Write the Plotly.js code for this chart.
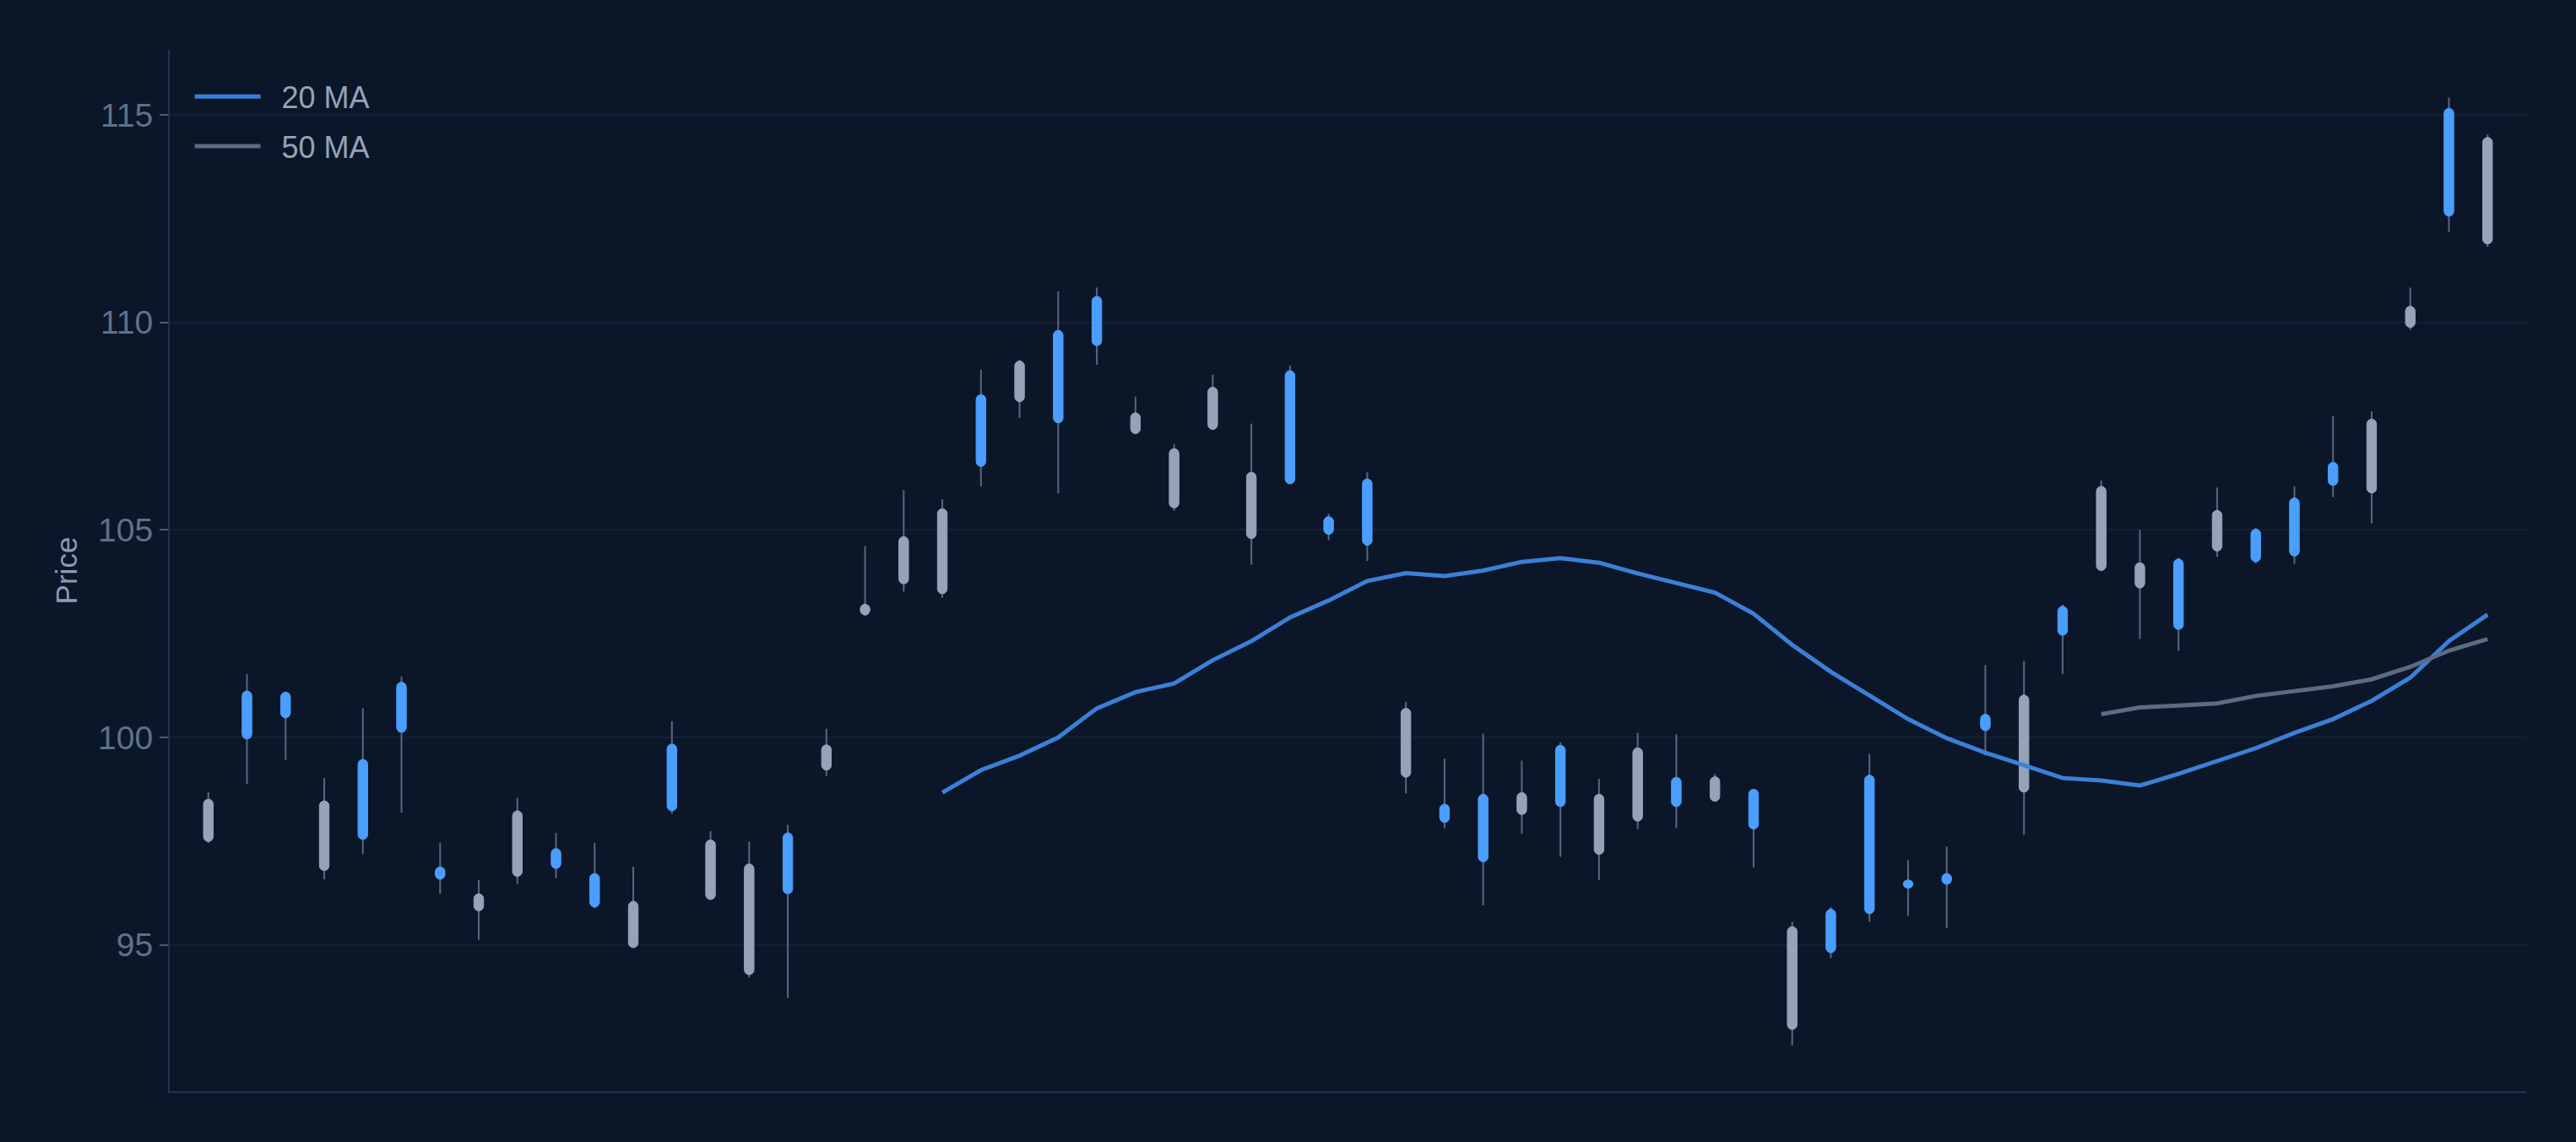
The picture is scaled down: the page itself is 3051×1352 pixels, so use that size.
<!DOCTYPE html>
<html>
<head>
<meta charset="utf-8">
<script src="https://cdn.plot.ly/plotly-3.0.1.min.js"></script>
<style>
	html, body { margin: 0; padding: 0; background: #0b1628; }
	#chart { width: 3051px; height: 1352px; }
</style>
</head>
<body>
<div id="chart"></div>
<script>
// OHLC, one entry per session
const openPrices = [98.51, 99.96, 100.47, 98.47, 97.54, 100.12, 96.58, 96.23, 98.23, 96.84,
	95.91, 96.05, 98.23, 97.53, 96.95, 96.23, 99.82, 103.21, 104.84, 105.51,
	106.53, 109.07, 107.58, 109.44, 107.82, 106.96, 108.44, 106.39, 106.11, 104.89,
	104.63, 100.70, 97.95, 97.00, 98.67, 98.33, 98.63, 99.75, 98.33, 99.05,
	97.79, 95.44, 94.81, 95.75, 96.37, 96.46, 100.16, 101.02, 102.46, 106.05,
	104.21, 102.60, 105.47, 104.23, 104.37, 106.07, 107.67, 110.39, 112.56, 114.46];
const highPrices = [98.68, 101.53, 101.10, 99.02, 100.70, 101.47, 97.46, 96.56, 98.54, 97.70,
	97.46, 96.88, 100.39, 97.74, 97.49, 97.89, 100.21, 104.61, 105.96, 105.74,
	108.86, 109.10, 110.75, 110.84, 108.21, 107.07, 108.74, 107.56, 108.96, 105.39,
	106.39, 100.86, 99.49, 100.09, 99.44, 99.88, 99.00, 100.11, 100.07, 99.12,
	98.75, 95.56, 95.91, 99.60, 97.04, 97.37, 101.74, 101.84, 103.20, 106.19,
	105.00, 104.33, 106.02, 105.05, 106.05, 107.74, 107.86, 110.84, 115.42, 114.53];
const lowPrices = [97.45, 98.88, 99.46, 96.58, 97.19, 98.18, 96.23, 95.12, 96.47, 96.61,
	95.88, 94.93, 98.16, 96.09, 94.21, 93.72, 99.07, 102.93, 103.51, 103.37,
	106.05, 107.70, 105.88, 108.98, 107.32, 105.46, 107.42, 104.16, 106.11, 104.75,
	104.25, 98.65, 97.81, 95.95, 97.68, 97.12, 96.56, 97.79, 97.81, 98.46,
	96.86, 92.58, 94.68, 95.56, 95.70, 95.40, 99.56, 97.65, 101.53, 104.02,
	102.37, 102.09, 104.35, 104.19, 104.18, 105.79, 105.16, 109.82, 112.18, 111.82];
const closePrices = [97.49, 101.12, 101.09, 96.79, 99.47, 101.33, 96.88, 95.82, 96.65, 97.32,
	96.72, 94.93, 99.84, 96.09, 94.28, 97.70, 99.21, 102.95, 103.70, 103.46,
	108.26, 108.09, 109.81, 110.63, 107.32, 105.53, 107.42, 104.79, 108.84, 105.32,
	106.23, 99.04, 98.39, 98.63, 98.14, 99.81, 97.18, 97.98, 99.04, 98.46,
	98.75, 92.96, 95.86, 99.09, 96.56, 96.72, 100.56, 98.68, 103.16, 104.02,
	103.60, 104.30, 104.49, 105.02, 105.77, 106.63, 105.89, 109.88, 115.16, 111.89];

// moving averages as drawn (20 MA starts at session 20, 50 MA at session 50)
const ma20Values = [98.67, 99.21, 99.56, 100.00, 100.70, 101.09, 101.30, 101.86, 102.32, 102.89,
	103.30, 103.77, 103.96, 103.89, 104.02, 104.23, 104.32, 104.21, 103.95, 103.72,
	103.49, 102.98, 102.23, 101.58, 101.00, 100.44, 99.98, 99.63, 99.33, 99.02,
	98.96, 98.84, 99.12, 99.42, 99.74, 100.11, 100.44, 100.88, 101.44, 102.32, 102.96];
const ma50Values = [100.56, 100.72, 100.77, 100.82, 101.00, 101.12, 101.23, 101.40, 101.70, 102.09, 102.37];

const yTicks = [95, 100, 105, 110, 115];

// session labels (business days)
const dates = [];
let d = new Date(Date.UTC(2024, 0, 2));
while (dates.length < openPrices.length) {
	const wd = d.getUTCDay();
	if (wd !== 0 && wd !== 6) dates.push(d.toISOString().slice(0, 10));
	d.setUTCDate(d.getUTCDate() + 1);
}

const ma20 = new Array(dates.length - ma20Values.length).fill(null).concat(ma20Values);
const ma50 = new Array(dates.length - ma50Values.length).fill(null).concat(ma50Values);

// wicks and bodies are both bars so the wick stays under the body
const wickSize = [], bodyBase = [], bodySize = [], bodyColor = [];
for (let i = 0; i < dates.length; i++) {
	wickSize.push(highPrices[i] - lowPrices[i]);
	bodyBase.push(Math.min(openPrices[i], closePrices[i]));
	bodySize.push(Math.abs(closePrices[i] - openPrices[i]));
	bodyColor.push(closePrices[i] >= openPrices[i] ? "#4a9eff" : "#94a3b8");
}

const pad = "\u00a0\u00a0"; // a bit of room between legend line and label

const data = [{
		type: "bar",
		x: dates,
		y: wickSize,
		base: lowPrices,
		width: 0.045,
		marker: { color: "#56667c", line: { width: 0 } },
		hoverinfo: "skip",
		showlegend: false
	},
	{
		type: "bar",
		x: dates,
		y: bodySize,
		base: bodyBase,
		width: 0.25,
		marker: { color: bodyColor, cornerradius: 6, line: { width: 1, color: bodyColor } },
		showlegend: false
	},
	{
		type: "scatter",
		mode: "lines",
		x: dates,
		y: ma20,
		name: pad + "20 MA",
		legendgroup: "ma20",
		line: { color: "#3b80d8", width: 5 }
	},
	{
		type: "scatter",
		mode: "lines",
		x: dates,
		y: ma50,
		name: pad + "50 MA",
		legendgroup: "ma50",
		line: { color: "#5b6b82", width: 5 }
	}
];

const layout = {
	width: 3051,
	height: 1352,
	paper_bgcolor: "#0b1628",
	plot_bgcolor: "#0b1628",
	margin: { l: 201, r: 59, t: 59, b: 60 },
	font: { family: "Liberation Sans, Arial, sans-serif", color: "#94a3b8", size: 36 },
	barmode: "overlay",
	showlegend: true,
	legend: {
		x: 0.0088,
		y: 0.9794,
		xanchor: "left",
		yanchor: "top",
		bgcolor: "rgba(0,0,0,0)",
		font: { size: 36, color: "#94a3b8" },
		itemwidth: 78,
		traceorder: "grouped",
		tracegroupgap: 9
	},
	xaxis: {
		type: "category",
		range: [-1, dates.length],
		showticklabels: false,
		ticks: "",
		showgrid: false,
		zeroline: false,
		showline: true,
		linecolor: "#1f3453",
		linewidth: 2,
		fixedrange: true
	},
	yaxis: {
		range: [91.47, 116.57],
		tickvals: yTicks,
		ticks: "outside",
		ticklen: 10,
		tickwidth: 2,
		tickcolor: "#4b5b70",
		tickfont: { size: 39, color: "#5f7189" },
		showgrid: true,
		gridcolor: "#132036",
		gridwidth: 2,
		zeroline: false,
		showline: true,
		linecolor: "#1f3453",
		linewidth: 2,
		title: { text: "Price", font: { size: 35, color: "#8a9bb3" }, standoff: 14 }
	}
};

Plotly.newPlot("chart", data, layout, { displayModeBar: false, staticPlot: true });
</script>
</body>
</html>
